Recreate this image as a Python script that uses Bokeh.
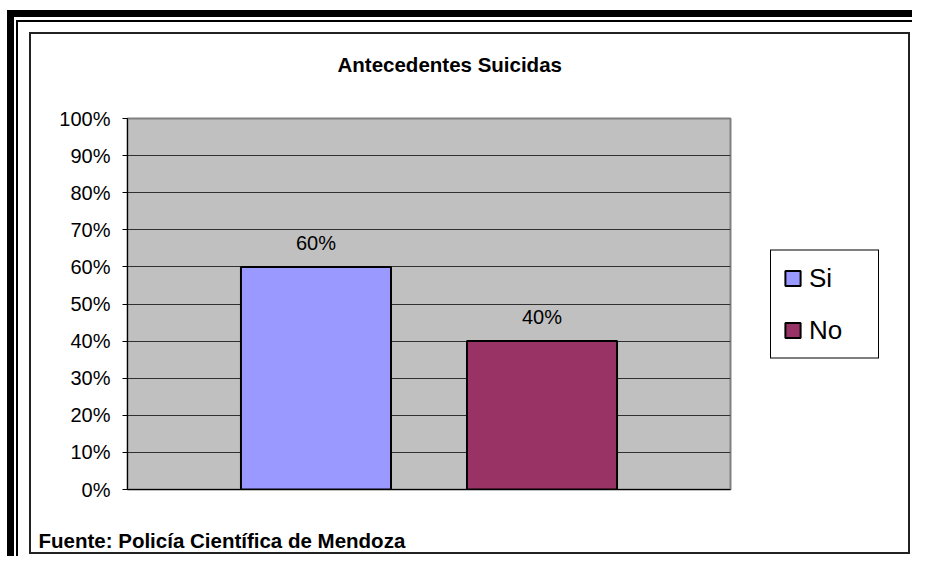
from bokeh.plotting import figure
from bokeh.models import (FactorRange, Range1d, FixedTicker, NumeralTickFormatter,
                          Title, Legend, LegendItem, ColumnDataSource)
from bokeh.core.properties import value
from bokeh.embed import file_html
from bokeh.resources import INLINE

# ---- data ----
categories = ["Si", "No"]
percentages = [0.60, 0.40]
bar_colors = ["#9999FF", "#993366"]
y_ticks = [0.0, 0.1, 0.2, 0.3, 0.4, 0.5, 0.6, 0.7, 0.8, 0.9, 1.0]
title_text = "Antecedentes Suicidas"
source_text = "Fuente: Policía Científica de Mendoza"

FONT = "Liberation Sans"

src = ColumnDataSource(dict(
    cat=categories,
    top=percentages,
    color=bar_colors,
    lbl=[f"{round(v * 100)}%" for v in percentages],
))

p = figure(frame_width=603, frame_height=371,
           output_backend="svg", toolbar_location=None,
           x_range=FactorRange(factors=categories, range_padding=0.334,
                               range_padding_units="absolute"),
           y_range=Range1d(0, 1),
           min_border_left=127, min_border_right=182,
           min_border_top=118, min_border_bottom=67)

p.background_fill_color = "#C0C0C0"
p.border_fill_alpha = 0
p.outline_line_color = "#808080"
p.outline_line_width = 2

# page size kept inside the window; page frame drawn with CSS inset shadows
p.styles = {
    "width": "912px",
    "height": "556px",
    "overflow": "hidden",
    "background-color": "white",
    "box-shadow": ", ".join([
        "inset 7px 10px 0 0 white",
        "inset 14px 17px 0 0 black",
        "inset 16px 20px 0 0 white",
        "inset 18px 22px 0 0 black",
        "inset 29px 32px 0 0 white",
        "inset -2px -2px 0 0 white",
        "inset 31px 34px 0 0 #222222",
        "inset -4px -4px 0 0 #222222",
    ]),
}

# title
p.title.text = title_text
p.title.align = "left"
p.title.offset = 210
p.title.standoff = 86
p.title.text_font = FONT
p.title.text_font_size = "20.5px"
p.title.text_font_style = "bold"
p.title.text_color = "black"

# y axis
yax = p.yaxis[0]
yax.ticker = FixedTicker(ticks=y_ticks)
yax.formatter = NumeralTickFormatter(format="0%")
yax.major_label_text_font = FONT
yax.major_label_text_font_size = "20px"
yax.major_label_text_color = "black"
yax.major_tick_out = 5
yax.major_tick_in = 0
yax.minor_tick_line_color = None
yax.axis_line_color = "black"
yax.major_tick_line_color = "black"
yax.major_label_standoff = 12

# x axis (baseline only, no labels)
xax = p.xaxis[0]
xax.ticker = FixedTicker(ticks=[])
xax.major_tick_line_color = None
xax.minor_tick_line_color = None
xax.major_tick_in = 0
xax.major_tick_out = 0
xax.major_label_standoff = 0
xax.axis_line_color = "black"

p.xgrid.grid_line_color = None
p.ygrid.ticker = FixedTicker(ticks=y_ticks)
p.ygrid.grid_line_color = "#303030"
p.ygrid.grid_line_width = 1

bars = p.vbar(x="cat", top="top", width=0.664, source=src,
              fill_color="color", line_color="black", line_width=2)

p.text(x="cat", y="top", text="lbl", source=src, y_offset=-24,
       text_align="center", text_baseline="middle",
       text_font=value(FONT), text_font_size="20px", text_color="black")

# source note
footer = Title(text=source_text, align="left", offset=-89, standoff=74,
               text_font=FONT, text_font_size="20.5px", text_font_style="bold",
               text_color="black")
p.add_layout(footer, "below")

legend = Legend(items=[LegendItem(label=categories[0], renderers=[bars], index=0),
                       LegendItem(label=categories[1], renderers=[bars], index=1)],
                location="center_left", orientation="vertical",
                padding=12, margin=40, spacing=21,
                glyph_width=19, glyph_height=19, label_height=30, label_width=57,
                label_standoff=7,
                label_text_font=FONT, label_text_font_size="26px",
                label_text_color="black",
                label_text_baseline="middle",
                background_fill_color="white", background_fill_alpha=1,
                border_line_color="black", border_line_width=1, border_line_alpha=1)
p.add_layout(legend, "right")

open("out.html", "w").write(file_html(p, INLINE))
